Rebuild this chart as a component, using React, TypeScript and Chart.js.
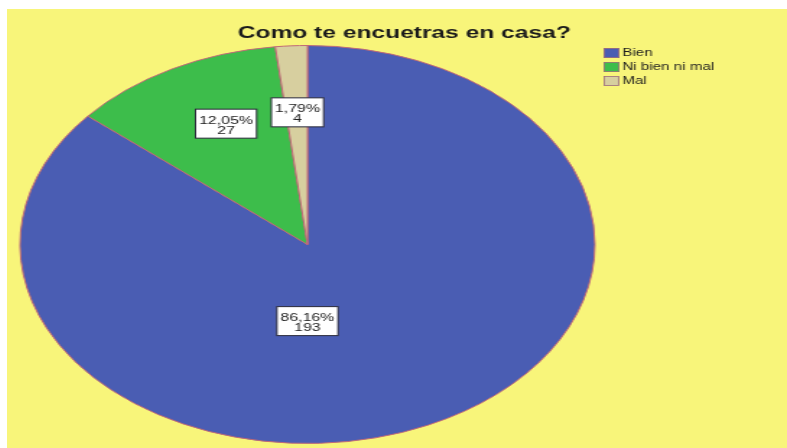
import React, { useEffect, useRef } from 'react';
import { Chart, registerables } from 'chart.js';

Chart.register(...registerables);

// ---- data ----
const categories: string[] = ['Bien', 'Ni bien ni mal', 'Mal'];
const counts: number[] = [193, 27, 4];
const titleText = 'Como te encuetras en casa?';

// ---- styles / placement ----
const sliceColors: string[] = ['#4a5db3', '#3dbd4b', '#d7cf9f'];
const sliceBorder = '#c06a78';
const BG = '#f8f57a';
const CANVAS_W = 540; // internal drawing width (stretched horizontally by CSS)
const CANVAS_H = 439;
const CSS_W = 780;
// label placement: degrees clockwise from 12 o'clock, fraction of radius
const labelAngles: number[] = [180, 335, 357];
const labelRadii: number[] = [0.385, 0.67, 0.665];

const fmtPct = (v: number) => v.toFixed(2).replace('.', ',') + '%';

const overlay = {
  id: 'overlay',
  beforeDraw(chart: any) {
    const ctx = chart.ctx;
    ctx.save();
    ctx.fillStyle = BG;
    ctx.fillRect(0, 0, chart.width, chart.height);
    ctx.restore();
  },
  afterDraw(chart: any) {
    const ctx: CanvasRenderingContext2D = chart.ctx;
    ctx.save();
    // title
    ctx.font = 'bold 17px "Liberation Sans", Arial, sans-serif';
    ctx.fillStyle = '#1b1b1b';
    ctx.textAlign = 'center';
    ctx.textBaseline = 'middle';
    ctx.fillText(titleText, 275, 24);

    // legend
    const ds = chart.data.datasets[0];
    ctx.font = '10.5px "Liberation Sans", Arial, sans-serif';
    ctx.textAlign = 'left';
    chart.data.labels.forEach((lab: string, i: number) => {
      const top = 39 + i * 14;
      ctx.fillStyle = ds.backgroundColor[i];
      ctx.fillRect(413, top, 11, 10);
      ctx.strokeStyle = '#a0707a';
      ctx.lineWidth = 0.8;
      ctx.strokeRect(413.5, top + 0.5, 10, 9);
      ctx.fillStyle = '#1e1e1e';
      ctx.fillText(lab, 426, top + 5.5);
    });

    // data labels
    const meta = chart.getDatasetMeta(0);
    const values: number[] = ds.data;
    const total = values.reduce((a, b) => a + b, 0);
    ctx.font = '11px "Liberation Sans", Arial, sans-serif';
    ctx.textAlign = 'center';
    meta.data.forEach((arc: any, i: number) => {
      const { x, y, outerRadius } = arc.getProps(['x', 'y', 'outerRadius'], true);
      const a = (labelAngles[i] * Math.PI) / 180;
      const r = outerRadius * labelRadii[i];
      const cx = x + r * Math.sin(a);
      const cy = y - r * Math.cos(a);
      const l1 = fmtPct((values[i] / total) * 100);
      const l2 = String(values[i]);
      const w = Math.max(ctx.measureText(l1).width, ctx.measureText(l2).width) + 5;
      const h = 29;
      ctx.fillStyle = '#ffffff';
      ctx.fillRect(cx - w / 2, cy - h / 2, w, h);
      ctx.strokeStyle = '#2a2a3a';
      ctx.lineWidth = 1;
      ctx.strokeRect(cx - w / 2, cy - h / 2, w, h);
      ctx.fillStyle = '#222222';
      ctx.fillText(l1, cx, cy - 3);
      ctx.fillText(l2, cx, cy + 7);
    });
    ctx.restore();
  },
};

export default function App() {
  const ref = useRef<HTMLCanvasElement | null>(null);
  useEffect(() => {
    if (!ref.current) return;
    const chart = new Chart(ref.current, {
      type: 'pie',
      data: {
        labels: categories,
        datasets: [
          {
            data: counts,
            backgroundColor: sliceColors,
            borderColor: sliceBorder,
            borderWidth: 1,
          },
        ],
      },
      options: {
        responsive: false,
        animation: false,
        devicePixelRatio: 1,
        radius: 199,
        layout: { padding: { left: 0, right: 124, top: 32, bottom: 0 } },
        plugins: {
          legend: { display: false },
          title: { display: false },
          tooltip: { enabled: false },
        },
      } as any,
      plugins: [overlay],
    });
    return () => chart.destroy();
  }, []);
  return (
    <div style={{ position: 'fixed', left: 0, top: 0, width: 787, height: 448, background: '#ffffff', overflow: 'hidden' }}>
      <canvas
        ref={ref}
        width={CANVAS_W}
        height={CANVAS_H}
        style={{ position: 'absolute', left: 7, top: 9, width: CSS_W + 'px', height: CANVAS_H + 'px' }}
      />
    </div>
  );
}
